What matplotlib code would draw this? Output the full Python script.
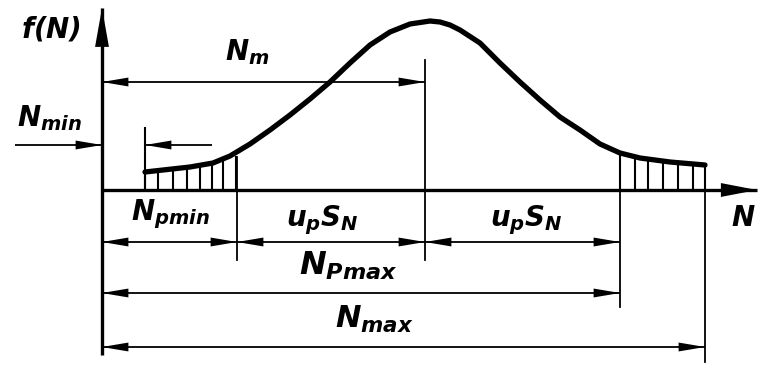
import matplotlib
matplotlib.use("Agg")
import matplotlib.pyplot as plt
from matplotlib.patches import FancyArrowPatch

plt.rcParams["mathtext.fontset"] = "custom"
plt.rcParams["mathtext.rm"] = "DejaVu Sans:italic:bold"
plt.rcParams["mathtext.it"] = "DejaVu Sans:italic:bold"
plt.rcParams["mathtext.bf"] = "DejaVu Sans:italic:bold"

# Distribution curve f(N)
n_curve = [43, 61, 88, 111, 128, 148, 168, 188, 208, 228, 248, 268, 288, 308,
           328, 338, 348, 358, 378, 398, 418, 438, 458, 478, 498, 518, 538,
           568, 603]
f_curve = [18, 20, 23, 27, 34, 46, 60, 75, 91, 108, 127, 145, 158, 166,
           169, 168, 165, 160, 147, 127, 108, 90, 73, 60, 46, 37, 32,
           28, 25]

# Hatched tails (below N_pmin and above N_pmax)
hatch_left_n = [43, 56, 71, 85, 98, 110, 121, 134]
hatch_left_f = [18, 19, 21, 23, 25, 27, 30, 33]
hatch_right_n = [518, 533, 546, 561, 576, 591, 603]
hatch_right_f = [37, 33, 31, 29, 27, 26, 25]

# Characteristic values along the N axis
N_min = 43
N_pmin = 135
N_m = 323
N_pmax = 518
N_max = 603

fig = plt.figure(figsize=(7.58, 3.65), dpi=100)
ax = fig.add_axes([0, 0, 1, 1])
ax.set_xlim(-102, 656)
ax.set_ylim(-175, 190)
ax.axis("off")

K = "black"
ms = 10


def arrow(x0, y0, x1, y1, lw=1.3, hl=1.9, hw=0.32, both=False):
    # shaft drawn as a plain line, heads as unstroked filled wedges
    ax.plot([x0, x1], [y0, y1], color=K, lw=lw, solid_capstyle="butt")
    style = f"{'<|' if both else ''}-|>,head_length={hl},head_width={hw}"
    p = FancyArrowPatch((x0, y0), (x1, y1), arrowstyle=style,
                        mutation_scale=ms, lw=0, color=K,
                        shrinkA=0, shrinkB=0)
    ax.add_patch(p)


# axes
arrow(0, -165, 0, 182, lw=2.4, hl=2.8, hw=0.5)
arrow(0, 0, 655, 0, lw=2.4, hl=2.6, hw=0.5)

# curve
ax.plot(n_curve, f_curve, color=K, lw=3.8, solid_capstyle="round",
        solid_joinstyle="round")

# hatching
for xs, fs in ((hatch_left_n, hatch_left_f), (hatch_right_n, hatch_right_f)):
    for x, f in zip(xs, fs):
        ax.plot([x, x], [0, f], color=K, lw=1.5)

# extension lines
ax.plot([N_min, N_min], [0, 62], color=K, lw=1.5)
ax.plot([N_pmin, N_pmin], [hatch_left_f[-1], -70], color=K, lw=1.3)
ax.plot([N_m, N_m], [130, -70], color=K, lw=1.3)
ax.plot([N_pmax, N_pmax], [hatch_right_f[0], -117], color=K, lw=1.3)
ax.plot([N_max, N_max], [hatch_right_f[-1], -172], color=K, lw=1.3)

# dimension arrows
arrow(0, 108, N_m, 108, both=True)
arrow(-87, 45, 0, 45)
arrow(110, 45, N_min, 45)
arrow(0, -52, N_pmin, -52, both=True)
arrow(N_pmin, -52, N_m, -52, both=True)
arrow(N_m, -52, N_pmax, -52, both=True)
arrow(0, -103, N_pmax, -103, both=True)
arrow(0, -157, N_max, -157, both=True)

fs = 20
ax.text(-51, 161, r"$f(N)$", fontsize=fs, ha="center", va="center")
ax.text(145, 138, r"$N_m$", fontsize=fs, ha="center", va="center")
ax.text(-53, 72, r"$N_{min}$", fontsize=fs, ha="center", va="center")
ax.text(68, -24, r"$N_{pmin}$", fontsize=fs, ha="center", va="center")
ax.text(220, -30, r"$u_p S_N$", fontsize=fs, ha="center", va="center")
ax.text(424, -30, r"$u_p S_N$", fontsize=fs, ha="center", va="center")
ax.text(246, -76, r"$N_{Pmax}$", fontsize=23, ha="center", va="center")
ax.text(272, -129, r"$N_{max}$", fontsize=22, ha="center", va="center")
ax.text(641, -28, r"$N$", fontsize=fs, ha="center", va="center")

fig.savefig("out.png", dpi=100, facecolor="white")
